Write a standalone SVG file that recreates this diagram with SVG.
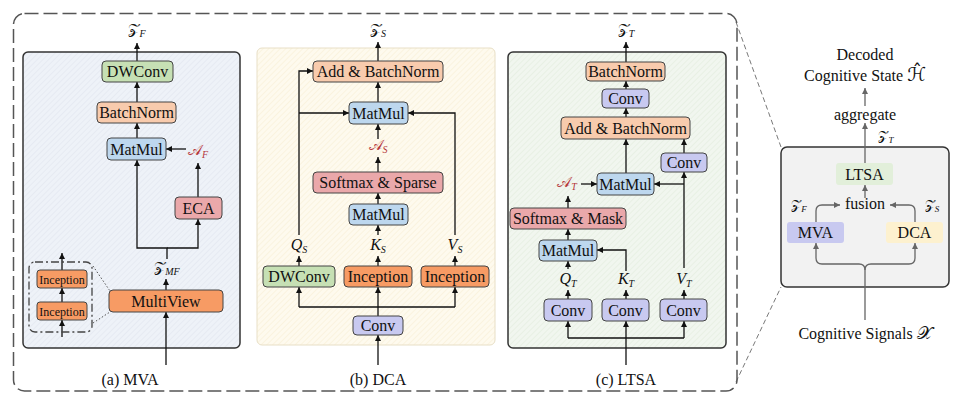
<svg xmlns="http://www.w3.org/2000/svg" width="969" height="405" viewBox="0 0 969 405" font-family="Liberation Serif, Times New Roman, serif">
<defs>
<pattern id="hA" width="4" height="4" patternUnits="userSpaceOnUse" patternTransform="rotate(45)"><rect width="4" height="4" fill="#eef2f8"/><line x1="0" y1="0" x2="0" y2="4" stroke="#d9dfea" stroke-width="0.8"/></pattern>
<pattern id="hB" width="4" height="4" patternUnits="userSpaceOnUse" patternTransform="rotate(45)"><rect width="4" height="4" fill="#fefaee"/><line x1="0" y1="0" x2="0" y2="4" stroke="#f5e9c8" stroke-width="0.8"/></pattern>
<pattern id="hC" width="4" height="4" patternUnits="userSpaceOnUse" patternTransform="rotate(45)"><rect width="4" height="4" fill="#f1f6ef"/><line x1="0" y1="0" x2="0" y2="4" stroke="#dbe6d6" stroke-width="0.8"/></pattern>
<marker id="ar" viewBox="0 0 10 10" refX="10" refY="5" markerWidth="6" markerHeight="6" markerUnits="userSpaceOnUse" orient="auto"><path d="M0,0 L10,5 L0,10 z" fill="#111"/></marker>
<marker id="ag" viewBox="0 0 10 10" refX="10" refY="5" markerWidth="6" markerHeight="6" markerUnits="userSpaceOnUse" orient="auto"><path d="M0,0 L10,5 L0,10 z" fill="#666"/></marker>
</defs>
<style>
text{font-family:"Liberation Serif",serif}
.t{font-size:16px;fill:#111;text-anchor:middle}
.s{font-size:12px}
.m{font-size:15px;fill:#111;text-anchor:middle}
.mc{font-family:"DejaVu Serif","DejaVu Sans",serif}
.mi{font-style:italic;font-size:16px;fill:#111;text-anchor:middle}
.sub{font-size:10px;font-style:italic}
.red{fill:#b5363a}
.n{stroke:#444;stroke-width:1}
.g{fill:#c6e0b4}.p{fill:#f8cbad}.b{fill:#bdd7ee}.r{fill:#eaa8aa}.o{fill:#f79b64}.v{fill:#c8c9f0}
.c{fill:none;stroke:#111;stroke-width:1.3}
.cg{fill:none;stroke:#666;stroke-width:1.3}
</style>

<rect x="13.5" y="13.5" width="723.5" height="377.5" rx="11" fill="none" stroke="#555" stroke-width="1.5" stroke-dasharray="14 5"/>
<line x1="736" y1="22" x2="781" y2="147" stroke="#555" stroke-width="0.8" stroke-dasharray="5 3"/>
<line x1="736" y1="382" x2="781" y2="287" stroke="#555" stroke-width="0.8" stroke-dasharray="5 3"/>

<g id="panel-a">
<rect x="23" y="52" width="217" height="296" rx="5" fill="url(#hA)" stroke="#333" stroke-width="1.5"/>
<text class="t" x="130" y="385">(a) MVA</text>
</g>
<g id="panel-b">
<rect x="257" y="48" width="238" height="297" rx="5" fill="url(#hB)" stroke="#e8dfc6" stroke-width="1"/>
<text class="t" x="378" y="385">(b) DCA</text>
</g>
<g id="panel-c">
<rect x="508" y="52" width="218" height="296" rx="5" fill="url(#hC)" stroke="#333" stroke-width="1.5"/>
<text class="t" x="626" y="385">(c) LTSA</text>
</g>
<g id="panel-overview">
<rect x="781" y="147" width="168" height="140" rx="6" fill="#f2f2f2" stroke="#333" stroke-width="1.5"/>
</g>

<g id="connectors">
<path class="c" d="M137,61 V43" marker-end="url(#ar)"/>
<path class="c" d="M137,102 V82" marker-end="url(#ar)"/>
<path class="c" d="M137,138 V123" marker-end="url(#ar)"/>
<path class="c" d="M186,149 H166" marker-end="url(#ar)"/>
<path class="c" d="M198,197 V163" marker-end="url(#ar)"/>
<path class="c" d="M167,259 V248 H137 V160" marker-end="url(#ar)"/>
<path class="c" d="M167,248 H198 V219" marker-end="url(#ar)"/>
<path class="c" d="M166,290 V279" marker-end="url(#ar)"/>
<path class="c" d="M166,365 V312" marker-end="url(#ar)"/>
<path class="c" d="M62,337 V320" marker-end="url(#ar)"/>
<path class="c" d="M62,302 V288" marker-end="url(#ar)"/>
<path class="c" d="M62,270 V253" marker-end="url(#ar)"/>
<path d="M93,266 L110,291 M93,323 L110,312" stroke="#555" stroke-width="1" stroke-dasharray="1.5 2" fill="none"/>
<path class="c" d="M378,61 V42" marker-end="url(#ar)"/>
<path class="c" d="M378,102 V82" marker-end="url(#ar)"/>
<path class="c" d="M378,139 V124" marker-end="url(#ar)"/>
<path class="c" d="M378,172 V157" marker-end="url(#ar)"/>
<path class="c" d="M378,204 V193" marker-end="url(#ar)"/>
<path class="c" d="M378,235 V225" marker-end="url(#ar)"/>
<path class="c" d="M299,235 V71 H313" marker-end="url(#ar)"/>
<path class="c" d="M299,113 H349" marker-end="url(#ar)"/>
<path class="c" d="M455,235 V113 H408" marker-end="url(#ar)"/>
<path class="c" d="M299,266 V256" marker-end="url(#ar)"/>
<path class="c" d="M378,266 V256" marker-end="url(#ar)"/>
<path class="c" d="M455,266 V256" marker-end="url(#ar)"/>
<path class="c" d="M299,307 H455"/>
<path class="c" d="M299,307 V287" marker-end="url(#ar)"/>
<path class="c" d="M455,307 V287" marker-end="url(#ar)"/>
<path class="c" d="M378,316 V287" marker-end="url(#ar)"/>
<path class="c" d="M378,365 V335" marker-end="url(#ar)"/>
<path class="c" d="M626,62 V42" marker-end="url(#ar)"/>
<path class="c" d="M626,89 V81" marker-end="url(#ar)"/>
<path class="c" d="M626,117 V108" marker-end="url(#ar)"/>
<path class="c" d="M684,153 V139" marker-end="url(#ar)"/>
<path class="c" d="M626,173 V139" marker-end="url(#ar)"/>
<path class="c" d="M581,184 H597" marker-end="url(#ar)"/>
<path class="c" d="M684,268 V172" marker-end="url(#ar)"/>
<path class="c" d="M684,184 H654" marker-end="url(#ar)"/>
<path class="c" d="M568,208 V196" marker-end="url(#ar)"/>
<path class="c" d="M568,240 V229" marker-end="url(#ar)"/>
<path class="c" d="M568,269 V261" marker-end="url(#ar)"/>
<path class="c" d="M626,271 V250 H597" marker-end="url(#ar)"/>
<path class="c" d="M568,299 V290" marker-end="url(#ar)"/>
<path class="c" d="M626,299 V290" marker-end="url(#ar)"/>
<path class="c" d="M684,299 V290" marker-end="url(#ar)"/>
<path class="c" d="M568,338 H684"/>
<path class="c" d="M568,338 V321" marker-end="url(#ar)"/>
<path class="c" d="M684,338 V321" marker-end="url(#ar)"/>
<path class="c" d="M626,365 V321" marker-end="url(#ar)"/>
<path class="cg" d="M865,163 V123" marker-end="url(#ag)"/>
<path class="cg" d="M865,106 V88" marker-end="url(#ag)"/>
<path class="cg" d="M865,198 V185" marker-end="url(#ag)"/>
<path class="cg" d="M816,222 V211 Q816,205 822,205 H840" marker-end="url(#ag)"/>
<path class="cg" d="M915,222 V211 Q915,205 909,205 H890" marker-end="url(#ag)"/>
<path class="cg" d="M865,320 V270 Q865,264 859,264 H822 Q816,264 816,258 V243" marker-end="url(#ag)"/>
<path class="cg" d="M865,270 Q865,264 871,264 H909 Q915,264 915,258 V243" marker-end="url(#ag)"/>
</g>

<g id="mva-nodes">
<g id="a-dwconv"><rect class="n g" x="102" y="61" width="71" height="21" rx="4"/><text class="t" x="137.5" y="77">DWConv</text></g>
<g id="a-bn"><rect class="n p" x="97" y="102" width="79" height="21" rx="4"/><text class="t" x="136.5" y="118">BatchNorm</text></g>
<g id="a-matmul"><rect class="n b" x="107" y="138" width="59" height="22" rx="4"/><text class="t" x="136.5" y="154.5">MatMul</text></g>
<g id="a-af"><text class="m red" x="198" y="155"><tspan class="mc">𝒜</tspan><tspan class="sub" dy="3">F</tspan></text></g>
<g id="a-eca"><rect class="n r" x="175" y="197" width="47" height="22" rx="4"/><text class="t" x="198.5" y="213.5">ECA</text></g>
<g id="a-zmf"><text class="m" x="167" y="272"><tspan class="mc">𝒵</tspan><tspan class="sub" dy="3">MF</tspan></text></g>
<g id="a-multiview"><rect class="n o" x="109" y="290" width="114" height="22" rx="4"/><text class="t" x="166" y="306.5">MultiView</text></g>
<g id="a-inset"><rect x="29" y="262" width="63" height="70" rx="6" fill="none" stroke="#444" stroke-width="1.3" stroke-dasharray="8 3 2 3"/></g>
<g id="a-inc1"><rect class="n o" x="37" y="270" width="50" height="18" rx="3"/><text class="t s" x="62" y="283.5">Inception</text></g>
<g id="a-inc2"><rect class="n o" x="37" y="302" width="50" height="18" rx="3"/><text class="t s" x="62" y="315.5">Inception</text></g>
<g id="a-zf"><text class="m" x="137" y="34"><tspan class="mc">𝒵</tspan><tspan class="sub" dy="3">F</tspan></text></g>
</g>

<g id="dca-nodes">
<g id="b-zs"><text class="m" x="378" y="34"><tspan class="mc">𝒵</tspan><tspan class="sub" dy="3">S</tspan></text></g>
<g id="b-addbn"><rect class="n p" x="313" y="61" width="130" height="21" rx="4"/><text class="t" x="378" y="77">Add &amp; BatchNorm</text></g>
<g id="b-matmul1"><rect class="n b" x="349" y="102" width="59" height="22" rx="4"/><text class="t" x="378.5" y="118.5">MatMul</text></g>
<g id="b-as"><text class="m red" x="378" y="150"><tspan class="mc">𝒜</tspan><tspan class="sub" dy="3">S</tspan></text></g>
<g id="b-softmax"><rect class="n r" x="313" y="172" width="130" height="21" rx="4"/><text class="t" x="378" y="188">Softmax &amp; Sparse</text></g>
<g id="b-matmul2"><rect class="n b" x="349" y="204" width="59" height="21" rx="4"/><text class="t" x="378.5" y="220">MatMul</text></g>
<g id="b-qs"><text class="mi" x="299" y="250">Q<tspan class="sub" dy="3">S</tspan></text></g>
<g id="b-ks"><text class="mi" x="378" y="250">K<tspan class="sub" dy="3">S</tspan></text></g>
<g id="b-vs"><text class="mi" x="455" y="250">V<tspan class="sub" dy="3">S</tspan></text></g>
<g id="b-dwconv"><rect class="n g" x="263" y="266" width="72" height="21" rx="4"/><text class="t" x="299" y="282">DWConv</text></g>
<g id="b-inck"><rect class="n o" x="344" y="266" width="68" height="21" rx="4"/><text class="t" x="378" y="282">Inception</text></g>
<g id="b-incv"><rect class="n o" x="421" y="266" width="68" height="21" rx="4"/><text class="t" x="455" y="282">Inception</text></g>
<g id="b-conv"><rect class="n v" x="353" y="316" width="50" height="19" rx="4"/><text class="t" x="378" y="331">Conv</text></g>
</g>

<g id="ltsa-nodes">
<g id="c-zt"><text class="m" x="626" y="34"><tspan class="mc">𝒵</tspan><tspan class="sub" dy="3">T</tspan></text></g>
<g id="c-bn"><rect class="n p" x="586" y="62" width="79" height="19" rx="4"/><text class="t" x="625.5" y="77">BatchNorm</text></g>
<g id="c-conv1"><rect class="n v" x="602" y="89" width="47" height="19" rx="4"/><text class="t" x="625.5" y="104">Conv</text></g>
<g id="c-addbn"><rect class="n p" x="561" y="117" width="129" height="22" rx="4"/><text class="t" x="625.5" y="133.5">Add &amp; BatchNorm</text></g>
<g id="c-conv2"><rect class="n v" x="661" y="153" width="46" height="19" rx="4"/><text class="t" x="684" y="168">Conv</text></g>
<g id="c-matmul1"><rect class="n b" x="597" y="173" width="57" height="22" rx="4"/><text class="t" x="625.5" y="189.5">MatMul</text></g>
<g id="c-at"><text class="m red" x="567" y="187"><tspan class="mc">𝒜</tspan><tspan class="sub" dy="3">T</tspan></text></g>
<g id="c-softmax"><rect class="n r" x="510" y="208" width="116" height="21" rx="4"/><text class="t" x="568" y="224">Softmax &amp; Mask</text></g>
<g id="c-matmul2"><rect class="n b" x="539" y="240" width="58" height="21" rx="4"/><text class="t" x="568" y="256">MatMul</text></g>
<g id="c-qt"><text class="mi" x="568" y="284">Q<tspan class="sub" dy="3">T</tspan></text></g>
<g id="c-kt"><text class="mi" x="626" y="284">K<tspan class="sub" dy="3">T</tspan></text></g>
<g id="c-vt"><text class="mi" x="684" y="284">V<tspan class="sub" dy="3">T</tspan></text></g>
<g id="c-convq"><rect class="n v" x="544" y="299" width="48" height="22" rx="4"/><text class="t" x="568" y="315.5">Conv</text></g>
<g id="c-convk"><rect class="n v" x="602" y="299" width="47" height="22" rx="4"/><text class="t" x="625.5" y="315.5">Conv</text></g>
<g id="c-convv"><rect class="n v" x="660" y="299" width="47" height="22" rx="4"/><text class="t" x="683.5" y="315.5">Conv</text></g>
</g>

<g id="overview-nodes">
<g id="r-out"><text class="t" x="865" y="60">Decoded</text><text class="t" x="865" y="81">Cognitive State <tspan class="mc" style="font-size:19px">ℋ̂</tspan></text></g>
<g id="r-agg"><text class="t" x="865" y="120">aggregate</text></g>
<g id="r-zt"><text class="m" x="886" y="140" style="font-size:13px"><tspan class="mc">𝒵</tspan><tspan class="sub" dy="3" style="font-size:9px">T</tspan></text></g>
<g id="r-ltsa"><rect x="836" y="163" width="57" height="22" rx="3" fill="#e2efda"/><text class="t" x="864.5" y="179.5">LTSA</text></g>
<g id="r-fusion"><text class="t" x="865" y="209">fusion</text></g>
<g id="r-zf"><text class="m" x="799" y="209" style="font-size:13px"><tspan class="mc">𝒵</tspan><tspan class="sub" dy="3" style="font-size:9px">F</tspan></text></g>
<g id="r-zs"><text class="m" x="932" y="209" style="font-size:13px"><tspan class="mc">𝒵</tspan><tspan class="sub" dy="3" style="font-size:9px">S</tspan></text></g>
<g id="r-mva"><rect x="787" y="222" width="57" height="21" rx="3" fill="#c8c9f0"/><text class="t" x="815.5" y="238">MVA</text></g>
<g id="r-dca"><rect x="886" y="222" width="57" height="21" rx="3" fill="#fdf1cf"/><text class="t" x="914.5" y="238">DCA</text></g>
<g id="r-in"><text class="t" x="865" y="339">Cognitive Signals <tspan class="mc" style="font-size:18px">𝒳</tspan></text></g>
</g>
</svg>
